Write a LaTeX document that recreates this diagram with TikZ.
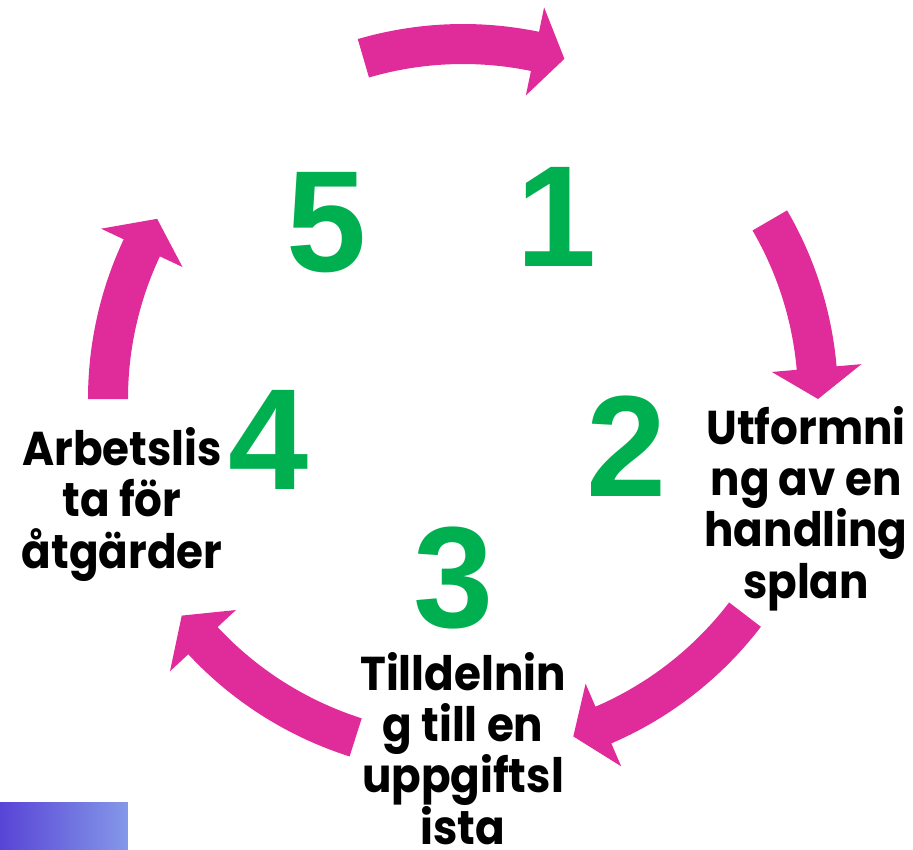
\documentclass[tikz,border=0pt]{standalone}
\usepackage{fontspec}
\setmainfont{Poppins}
\newfontfamily\labelfont[FakeStretch=0.92]{Poppins}
\newfontfamily\digitfont{Liberation Sans}
\definecolor{cyclepink}{RGB}{224,44,154}
\definecolor{stepgreen}{RGB}{0,176,80}
\definecolor{shadeleft}{RGB}{88,68,214}
\definecolor{shaderight}{RGB}{132,152,232}

\begin{document}
\begin{tikzpicture}[
    every node/.style={inner sep=0pt},
    stepnum/.style={
        text=stepgreen,
        font=\digitfont\bfseries\fontsize{41}{41}\selectfont
    },
    steptext/.style={
        align=center,
        anchor=base,
        font=\labelfont\bfseries\fontsize{13.5}{14.6}\selectfont
    },
    cyclearrow/.style={fill=cyclepink}
]
\useasboundingbox (-4.63,3.99) rectangle (4.50,-4.50);

% arrows round the cycle: tail angle / head base angle / tip angle
\foreach \angA/\angB/\angC in {106.3/78.3/73.4, 30.2/5/0, -37.4/-66.7/-71.9,
                               -107.6/-137.1/-142.4, 180/154.8/149.5}
    \fill[cyclearrow] (\angA:3.75) arc[start angle=\angA, end angle=\angB, radius=3.75]
        -- (\angB:4.0) -- (\angC:3.55) -- (\angB:3.1) -- (\angB:3.35)
        arc[start angle=\angB, end angle=\angA, radius=3.35] -- cycle;

% step numbers
\node[stepnum] (n1) at (0.935,1.82) {1};
\node[stepnum] (n2) at (1.64,-0.47) {2};
\node[stepnum] (n3) at (-0.095,-1.785) {3};
\node[stepnum] (n4) at (-1.94,-0.405) {4};
\node[stepnum] (n5) at (-1.365,1.76) {5};

% step texts (anchored at the last line)
\node[steptext] (t2) at (3.43,-1.99) {Utformni\\ng av en\\handling\\splan};
\node[steptext] (t3) at (0,-4.45) {Tilldelnin\\g till en\\uppgiftsl\\ista};
\node[steptext] (t4) at (-3.41,-1.69) {Arbetslis\\ta för\\åtgärder};

% corner bar
\shade[left color=shadeleft, right color=shaderight] (-4.63,-4.03) rectangle (-3.35,-4.50);

\end{tikzpicture}
\end{document}
